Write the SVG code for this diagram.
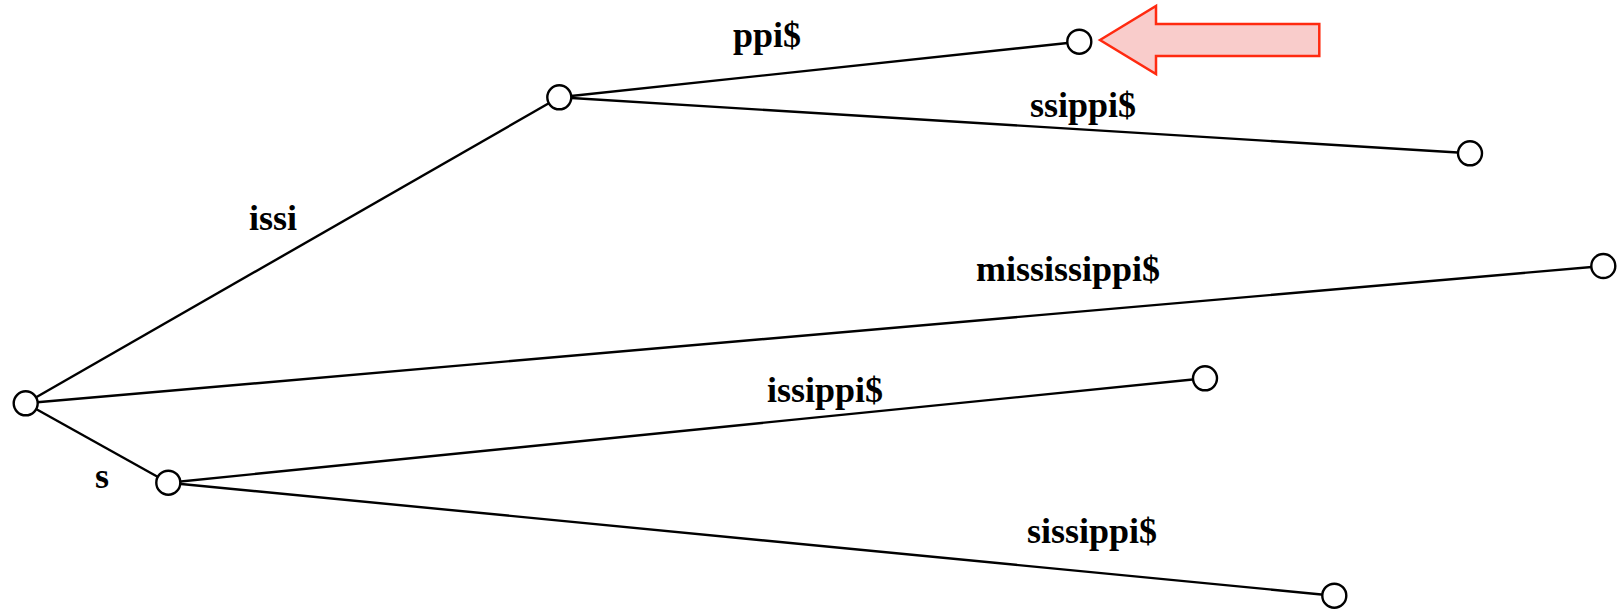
<svg xmlns="http://www.w3.org/2000/svg" width="1623" height="616" viewBox="0 0 1623 616">
<style>
.edge{stroke:#000;stroke-width:2.4;fill:none}
.node{fill:#fff;stroke:#000;stroke-width:2.4}
.lbl{font-family:"Liberation Serif","Times New Roman",serif;font-weight:bold;font-size:36px;fill:#000}
</style>
<rect width="1623" height="616" fill="#fff"/>
<g id="connectors">
<line class="edge" x1="25.7" y1="403.3" x2="559.3" y2="97.3"/>
<line class="edge" x1="559.3" y1="97.3" x2="1079.3" y2="41.7"/>
<line class="edge" x1="559.3" y1="97.3" x2="1470" y2="153.3"/>
<line class="edge" x1="25.7" y1="403.3" x2="1603.3" y2="266"/>
<line class="edge" x1="25.7" y1="403.3" x2="168.3" y2="482.7"/>
<line class="edge" x1="168.3" y1="482.7" x2="1205" y2="378.3"/>
<line class="edge" x1="168.3" y1="482.7" x2="1334.3" y2="595.7"/>
</g>
<g id="labels">
<text class="lbl" x="249" y="230">issi</text>
<text class="lbl" x="733" y="47">ppi$</text>
<text class="lbl" x="1030" y="117">ssippi$</text>
<text class="lbl" x="976" y="281">mississippi$</text>
<text class="lbl" x="767" y="402">issippi$</text>
<text class="lbl" x="95" y="488">s</text>
<text class="lbl" x="1027" y="543">sissippi$</text>
</g>
<g id="root"><circle class="node" cx="25.7" cy="403.3" r="12"/></g>
<g id="n-issi"><circle class="node" cx="559.3" cy="97.3" r="12"/></g>
<g id="leaf-ppi"><circle class="node" cx="1079.3" cy="41.7" r="12"/></g>
<g id="leaf-ssippi"><circle class="node" cx="1470" cy="153.3" r="12"/></g>
<g id="leaf-mississippi"><circle class="node" cx="1603.3" cy="266" r="12"/></g>
<g id="n-s"><circle class="node" cx="168.3" cy="482.7" r="12"/></g>
<g id="leaf-issippi"><circle class="node" cx="1205" cy="378.3" r="12"/></g>
<g id="leaf-sissippi"><circle class="node" cx="1334.3" cy="595.7" r="12"/></g>
<g id="pointer">
<polygon points="1100,40 1156,6 1156,24 1319.3,24 1319.3,56 1156,56 1156,74" fill="#f9cccb" stroke="#ff2a10" stroke-width="2.5" stroke-linejoin="miter"/>
</g>
</svg>
